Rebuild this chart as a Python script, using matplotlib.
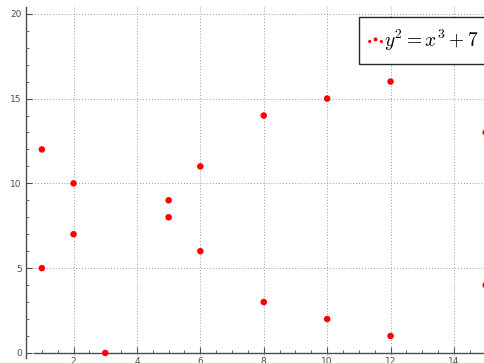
import matplotlib
matplotlib.use('Agg')
import matplotlib.pyplot as plt
import matplotlib.ticker as ticker
from matplotlib.collections import PathCollection
from matplotlib.legend_handler import HandlerPathCollection

# points of y^2 = x^3 + 7 over F_17
xs = [1, 1, 2, 2, 3, 5, 5, 6, 6, 8, 8, 10, 10, 12, 12, 15, 15]
ys = [5, 12, 7, 10, 0, 8, 9, 6, 11, 3, 14, 2, 15, 1, 16, 4, 13]
label = r'$y^2 = x^3 + 7$'

plt.rcParams['mathtext.fontset'] = 'cm'

fig = plt.figure(figsize=(4.85, 3.63), dpi=100)
ax = fig.add_axes([26 / 485, 5 / 363, 475.5 / 485, 351 / 363])

ax.scatter(xs, ys, s=22, color='red', edgecolors='none', label=label, zorder=3)

ax.set_xlim(0.5, 15.5)
ax.set_ylim(-0.3, 20.4)

ax.xaxis.set_major_locator(ticker.MultipleLocator(2))
ax.xaxis.set_minor_locator(ticker.MultipleLocator(0.5))
ax.yaxis.set_major_locator(ticker.MultipleLocator(5))
ax.yaxis.set_minor_locator(ticker.MultipleLocator(1))

ax.spines['top'].set_visible(False)
ax.spines['right'].set_visible(False)
ax.spines['bottom'].set_position(('data', 0))
ax.spines['bottom'].set_bounds(0.75, 15.5)
for side in ['left', 'bottom']:
    ax.spines[side].set_color('0.3')
    ax.spines[side].set_linewidth(1.0)

ax.tick_params(which='both', direction='in', colors='0.3', labelsize=6.5, pad=3)
ax.tick_params(which='major', length=4)
ax.tick_params(which='minor', length=2)

ax.grid(True, which='major', color='0.6', linestyle=(0, (1, 2)), linewidth=0.7)
ax.set_axisbelow(True)

leg = ax.legend(loc='upper left', bbox_to_anchor=(359 / 485, 1 - 17 / 363),
                bbox_transform=fig.transFigure, borderaxespad=0,
                scatterpoints=3, scatteryoffsets=[0.4, 0.55, 0.4],
                handler_map={PathCollection: HandlerPathCollection(marker_pad=0)},
                fancybox=False, framealpha=1, fontsize=14,
                handlelength=0.6, handletextpad=0.15, borderpad=0.55)
leg.get_frame().set_edgecolor('0.15')
leg.get_frame().set_linewidth(1.0)
for h in leg.legend_handles:
    h.set_sizes([5, 8, 5])

fig.savefig('out.png', dpi=100)
